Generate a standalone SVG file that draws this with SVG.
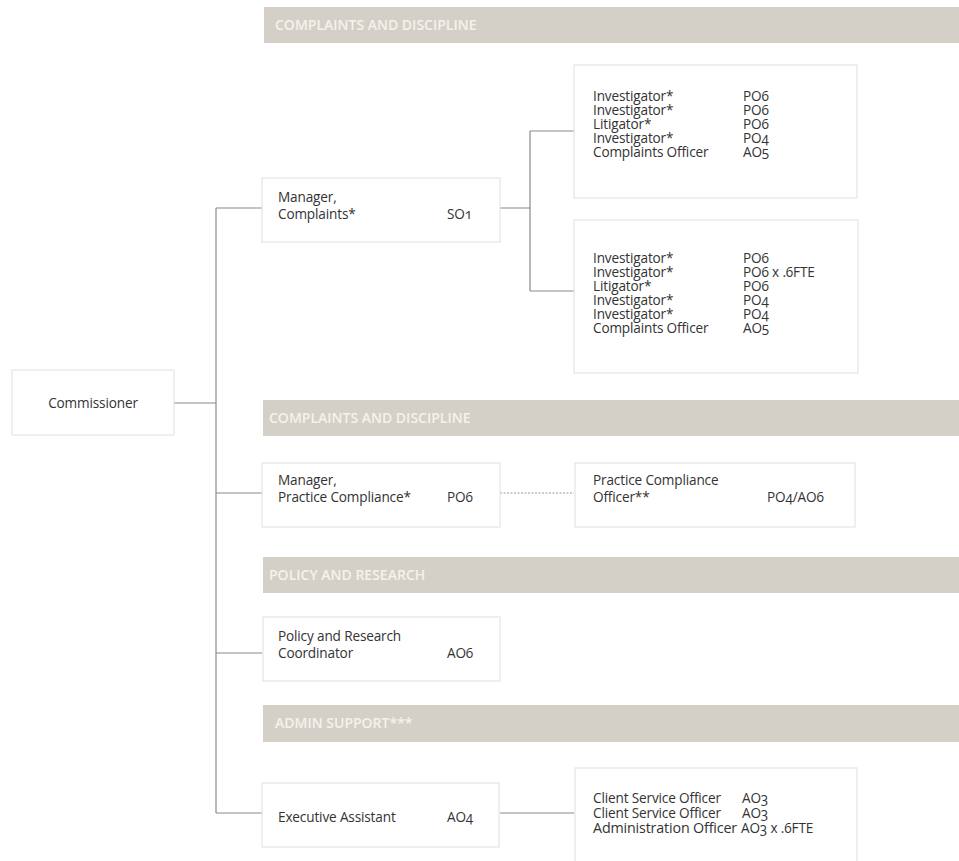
<svg xmlns="http://www.w3.org/2000/svg" width="959" height="861" viewBox="0 0 959 861">
<style>
.bar{fill:#d4d0c7}
.bt{font-family:"Open Sans","Liberation Sans",sans-serif;font-size:14px;font-weight:600;fill:#f4f2ee}
.box{fill:#fff;stroke:#e4e4e4;stroke-width:1.2}
.t{font-family:"Open Sans","Liberation Sans",sans-serif;font-size:13.6px;fill:#333;letter-spacing:-0.15px;font-variant-numeric:oldstyle-nums;font-feature-settings:"onum"}
.ln{stroke:#8a8a8a;stroke-width:1.2;fill:none}
.dot{stroke:#9a9a9a;stroke-width:1.2;stroke-dasharray:2 1.5;fill:none}
</style>
<rect width="959" height="861" fill="#fff"/>
<g id="headers">
<rect class="bar" x="264" y="7" width="695" height="36"/>
<text class="bt" x="275" y="30">COMPLAINTS AND DISCIPLINE</text>
<rect class="bar" x="263" y="400" width="696" height="36"/>
<text class="bt" x="269" y="423">COMPLAINTS AND DISCIPLINE</text>
<rect class="bar" x="263" y="557" width="696" height="36"/>
<text class="bt" x="269" y="580">POLICY AND RESEARCH</text>
<rect class="bar" x="263" y="705" width="696" height="37"/>
<text class="bt" x="275" y="728">ADMIN SUPPORT***</text>
</g>
<g id="connectors">
<path class="ln" d="M216 208 V813"/>
<path class="ln" d="M174 403 H216"/>
<path class="ln" d="M216 208 H262"/>
<path class="ln" d="M216 493 H262"/>
<path class="ln" d="M216 653 H262"/>
<path class="ln" d="M216 813 H262"/>
<path class="ln" d="M500 208 H530 M530 131 V291 M530 131 H574 M530 291 H574"/>
<path class="dot" d="M500 493 H574"/>
<path class="ln" d="M500 813 H574"/>
</g>
<g id="commissioner">
<rect class="box" x="12" y="370" width="162" height="65"/>
<text class="t" x="93" y="408" text-anchor="middle">Commissioner</text>
</g>
<g id="manager-complaints">
<rect class="box" x="262" y="178" width="238" height="64"/>
<text class="t"><tspan x="278" y="202">Manager,</tspan><tspan x="278" y="219">Complaints*</tspan></text>
<text class="t" x="447" y="219">SO1</text>
</g>
<g id="team-1">
<rect class="box" x="574" y="65" width="283" height="133"/>
<text class="t"><tspan x="593" y="101">Investigator*</tspan><tspan x="593" dy="14">Investigator*</tspan><tspan x="593" dy="14">Litigator*</tspan><tspan x="593" dy="14">Investigator*</tspan><tspan x="593" dy="14">Complaints Officer</tspan></text>
<text class="t"><tspan x="743" y="101">PO6</tspan><tspan x="743" dy="14">PO6</tspan><tspan x="743" dy="14">PO6</tspan><tspan x="743" dy="14">PO4</tspan><tspan x="743" dy="14">AO5</tspan></text>
</g>
<g id="team-2">
<rect class="box" x="574" y="220" width="284" height="153"/>
<text class="t"><tspan x="593" y="263">Investigator*</tspan><tspan x="593" dy="14">Investigator*</tspan><tspan x="593" dy="14">Litigator*</tspan><tspan x="593" dy="14">Investigator*</tspan><tspan x="593" dy="14">Investigator*</tspan><tspan x="593" dy="14">Complaints Officer</tspan></text>
<text class="t"><tspan x="743" y="263">PO6</tspan><tspan x="743" dy="14">PO6 x .6FTE</tspan><tspan x="743" dy="14">PO6</tspan><tspan x="743" dy="14">PO4</tspan><tspan x="743" dy="14">PO4</tspan><tspan x="743" dy="14">AO5</tspan></text>
</g>
<g id="manager-practice">
<rect class="box" x="262" y="463" width="238" height="64"/>
<text class="t"><tspan x="278" y="485">Manager,</tspan><tspan x="278" y="502">Practice Compliance*</tspan></text>
<text class="t" x="447" y="502">PO6</text>
</g>
<g id="practice-officer">
<rect class="box" x="575" y="463" width="280" height="64"/>
<text class="t"><tspan x="593" y="485">Practice Compliance</tspan><tspan x="593" y="502">Officer**</tspan></text>
<text class="t" x="767" y="502">PO4/AO6</text>
</g>
<g id="policy">
<rect class="box" x="263" y="617" width="237" height="64"/>
<text class="t"><tspan x="278" y="641">Policy and Research</tspan><tspan x="278" y="658">Coordinator</tspan></text>
<text class="t" x="447" y="658">AO6</text>
</g>
<g id="executive">
<rect class="box" x="262" y="783" width="237" height="64"/>
<text class="t" x="278" y="822">Executive Assistant</text>
<text class="t" x="447" y="822">AO4</text>
</g>
<g id="admin-team">
<rect class="box" x="575" y="768" width="282" height="100"/>
<text class="t"><tspan x="593" y="803">Client Service Officer</tspan><tspan x="593" dy="15">Client Service Officer</tspan><tspan x="593" dy="15" textLength="144" lengthAdjust="spacingAndGlyphs">Administration Officer</tspan></text>
<text class="t"><tspan x="742" y="803">AO3</tspan><tspan x="742" dy="15">AO3</tspan><tspan x="741" dy="15">AO3 x .6FTE</tspan></text>
</g>
</svg>
